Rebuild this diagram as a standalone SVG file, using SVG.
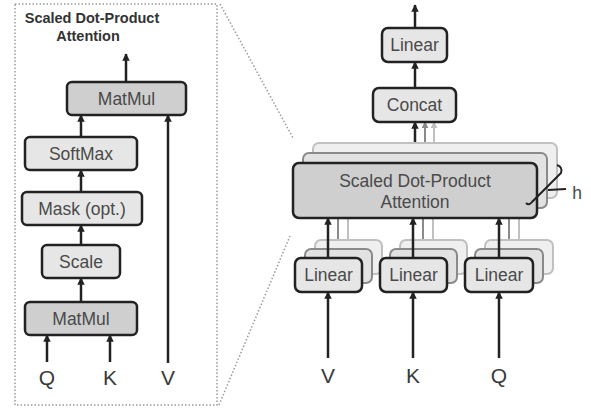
<svg xmlns="http://www.w3.org/2000/svg" width="591" height="408" viewBox="0 0 591 408">
  <style>
    .box { stroke: #222; stroke-width: 2.5; }
    .dark { fill: #cfcfcf; }
    .light { fill: #e6e6e6; }
    .lbl { font-family: "Liberation Sans", Arial, sans-serif; font-size: 17.5px; fill: #4a4a4a; text-anchor: middle; }
    .io { font-family: "Liberation Sans", Arial, sans-serif; font-size: 21px; fill: #3a3a3a; text-anchor: middle; }
    .title { font-family: "Liberation Sans", Arial, sans-serif; font-size: 14.5px; font-weight: bold; fill: #333; text-anchor: middle; }
    .wire { stroke: #222; stroke-width: 2.5; fill: none; }
    .wire2 { stroke: #8a8a8a; stroke-width: 2; fill: none; }
    .wire3 { stroke: #c0c0c0; stroke-width: 2; fill: none; }
    .ghost1 { fill: #e2e2e2; stroke: #8a8a8a; stroke-width: 2; }
    .ghost2 { fill: #efefef; stroke: #c0c0c0; stroke-width: 2; }
    .dots { stroke: #9a9a9a; stroke-width: 1.5; stroke-dasharray: 1.5 2; fill: none; }
  </style>
  <defs>
    <marker id="ah" viewBox="0 0 10 10" refX="9" refY="5" markerWidth="3" markerHeight="3" orient="auto">
      <path d="M0,0 L10,5 L0,10 z" fill="#222"/>
    </marker>
    <marker id="ah2" viewBox="0 0 10 10" refX="9" refY="5" markerWidth="3.5" markerHeight="3.5" orient="auto">
      <path d="M0,0 L10,5 L0,10 z" fill="#8a8a8a"/>
    </marker>
    <marker id="ah3" viewBox="0 0 10 10" refX="9" refY="5" markerWidth="3.5" markerHeight="3.5" orient="auto">
      <path d="M0,0 L10,5 L0,10 z" fill="#c0c0c0"/>
    </marker>
  </defs>

  <!-- zoom frame around the attention detail -->
  <g id="frame">
    <rect class="dots" x="15" y="4" width="202" height="401"/>
    <line class="dots" x1="220" y1="4" x2="293" y2="138"/>
    <line class="dots" x1="219" y1="405" x2="290" y2="236"/>
    <text class="title" x="92" y="23">Scaled Dot-Product</text>
    <text class="title" x="88" y="41">Attention</text>
  </g>

  <!-- connectors -->
  <g id="connectors">
    <!-- left detail -->
    <line class="wire" x1="126" y1="82" x2="126" y2="54" marker-end="url(#ah)"/>
    <line class="wire" x1="81" y1="137" x2="81" y2="115" marker-end="url(#ah)"/>
    <line class="wire" x1="81" y1="192" x2="81" y2="170" marker-end="url(#ah)"/>
    <line class="wire" x1="81" y1="245" x2="81" y2="225" marker-end="url(#ah)"/>
    <line class="wire" x1="81" y1="302" x2="81" y2="278" marker-end="url(#ah)"/>
    <line class="wire" x1="47" y1="362" x2="47" y2="335" marker-end="url(#ah)"/>
    <line class="wire" x1="110" y1="362" x2="110" y2="335" marker-end="url(#ah)"/>
    <line class="wire" x1="168" y1="363" x2="168" y2="115" marker-end="url(#ah)"/>

    <!-- right: output path -->
    <line class="wire" x1="415" y1="28" x2="415" y2="5" marker-end="url(#ah)"/>
    <line class="wire" x1="415" y1="88" x2="415" y2="62" marker-end="url(#ah)"/>
    <line class="wire3" x1="434" y1="143" x2="434" y2="122" marker-end="url(#ah3)"/>
    <line class="wire2" x1="425" y1="153" x2="425" y2="122" marker-end="url(#ah2)"/>
    <line class="wire" x1="415" y1="163" x2="415" y2="122" marker-end="url(#ah)"/>

    <!-- right: projections into attention -->
    <line class="wire3" x1="348" y1="240" x2="348" y2="218"/>
    <line class="wire2" x1="338" y1="249" x2="338" y2="218"/>
    <line class="wire3" x1="433" y1="240" x2="433" y2="218"/>
    <line class="wire2" x1="423" y1="249" x2="423" y2="218"/>
    <line class="wire3" x1="519" y1="240" x2="519" y2="218"/>
    <line class="wire2" x1="509" y1="249" x2="509" y2="218"/>
  </g>

  <!-- stacked heads of the attention block -->
  <g id="attention">
    <rect class="ghost2" x="313" y="143" width="244" height="55" rx="6"/>
    <rect class="ghost1" x="303" y="153" width="244" height="55" rx="6"/>
    <rect class="box dark" x="293" y="163" width="244" height="55" rx="6"/>
    <text class="lbl" x="415" y="187">Scaled Dot-Product</text>
    <text class="lbl" x="415" y="208">Attention</text>
  </g>

  <!-- head count marker -->
  <g id="heads">
    <path d="M557,165 Q563,167 561,173 L532,202 Q529,206 526,203" fill="none" stroke="#222" stroke-width="2"/>
    <line x1="548" y1="190" x2="566" y2="189" stroke="#222" stroke-width="2"/>
    <text class="lbl" x="577" y="199">h</text>
  </g>

  <!-- linear projections (ghost copies behind) -->
  <g id="linear-v">
    <rect class="ghost2" x="315" y="240" width="67" height="34" rx="6"/>
    <rect class="ghost1" x="305" y="249" width="67" height="34" rx="6"/>
  </g>
  <g id="linear-k">
    <rect class="ghost2" x="400" y="240" width="67" height="34" rx="6"/>
    <rect class="ghost1" x="390" y="249" width="67" height="34" rx="6"/>
  </g>
  <g id="linear-q">
    <rect class="ghost2" x="485" y="240" width="68" height="34" rx="6"/>
    <rect class="ghost1" x="475" y="249" width="68" height="34" rx="6"/>
  </g>
  <g id="linear-fronts">
    <rect class="box light" x="295" y="258" width="67" height="34" rx="6"/>
    <text class="lbl" x="328.5" y="281">Linear</text>
    <rect class="box light" x="380" y="258" width="67" height="34" rx="6"/>
    <text class="lbl" x="413.5" y="281">Linear</text>
    <rect class="box light" x="465" y="258" width="68" height="34" rx="6"/>
    <text class="lbl" x="499" y="281">Linear</text>
  </g>
  <g id="proj-arrows">
    <line class="wire" x1="328" y1="258" x2="328" y2="218" marker-end="url(#ah)"/>
    <line class="wire" x1="413" y1="258" x2="413" y2="218" marker-end="url(#ah)"/>
    <line class="wire" x1="499" y1="258" x2="499" y2="218" marker-end="url(#ah)"/>
    <line class="wire" x1="328" y1="358" x2="328" y2="292" marker-end="url(#ah)"/>
    <line class="wire" x1="413" y1="358" x2="413" y2="292" marker-end="url(#ah)"/>
    <line class="wire" x1="499" y1="358" x2="499" y2="292" marker-end="url(#ah)"/>
  </g>

  <g id="concat">
    <rect class="box light" x="373" y="88" width="83" height="34" rx="6"/>
    <text class="lbl" x="414.5" y="111">Concat</text>
  </g>
  <g id="linear-out">
    <rect class="box light" x="382" y="28" width="65" height="34" rx="6"/>
    <text class="lbl" x="414.5" y="51">Linear</text>
  </g>

  <!-- left detail nodes -->
  <g id="matmul-top">
    <rect class="box dark" x="67" y="82" width="119" height="33" rx="5"/>
    <text class="lbl" x="126.5" y="105">MatMul</text>
  </g>
  <g id="softmax">
    <rect class="box light" x="25" y="137" width="112" height="33" rx="5"/>
    <text class="lbl" x="81" y="160">SoftMax</text>
  </g>
  <g id="mask">
    <rect class="box light" x="22" y="192" width="120" height="33" rx="5"/>
    <text class="lbl" x="82" y="215">Mask (opt.)</text>
  </g>
  <g id="scale">
    <rect class="box light" x="42" y="245" width="78" height="33" rx="5"/>
    <text class="lbl" x="81" y="268">Scale</text>
  </g>
  <g id="matmul-bottom">
    <rect class="box dark" x="25" y="302" width="112" height="33" rx="5"/>
    <text class="lbl" x="81" y="325">MatMul</text>
  </g>

  <!-- inputs -->
  <g id="inputs">
    <text class="io" x="47" y="385">Q</text>
    <text class="io" x="110" y="385">K</text>
    <text class="io" x="168" y="385">V</text>
    <text class="io" x="328" y="383">V</text>
    <text class="io" x="413" y="383">K</text>
    <text class="io" x="499" y="383">Q</text>
  </g>
</svg>
